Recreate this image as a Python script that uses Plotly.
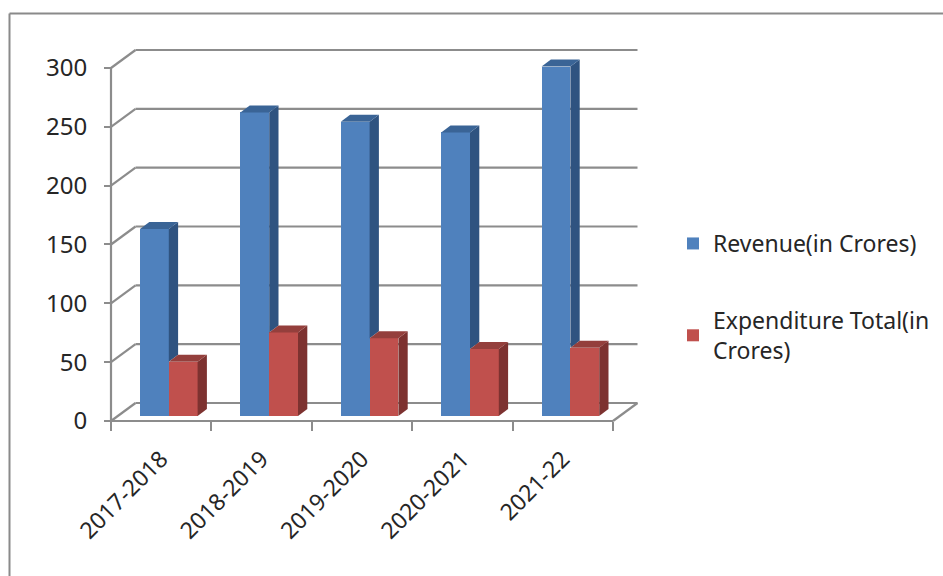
import plotly.graph_objects as go

categories = ["2017-2018", "2018-2019", "2019-2020", "2020-2021", "2021-22"]
revenue = [159, 258, 250, 241, 297]
expenditure = [46, 71, 66, 57, 58]
y_ticks = [0, 50, 100, 150, 200, 250, 300]

W, H = 943, 576
FONT = "Noto Sans"
TXT = "#262626"
GRID = "#8c8c8c"
BLUE, BLUE_SIDE, BLUE_TOP = "#4f81bd", "#2f5380", "#3a6496"
RED, RED_SIDE, RED_TOP = "#c0504d", "#7d3230", "#943f3c"

# pixel calibration of the "front" plane
X0, UX = 111.0, 100.4      # px of category boundary 0, px per category
Y0, UY = 421.0, 1.1767     # px of value 0, px per value unit
L, R, T, B = 100, 645, 40, 432   # plot rectangle in px

xr = [(L - X0) / UX, (R - X0) / UX]
yr = [(Y0 - B) / UY, (Y0 - T) / UY]
wall_dx, wall_dy = 24.5 / UX, 18 / UY        # depth of the back wall
base = 5 / UY                                # bars stand slightly in front
bar_w = 28.8 / UX
first = 29.0 / UX
d_x, d_y = 9.3 / UX, 7 / UY                  # bar depth

n = len(categories)
rev_left = [i + first for i in range(n)]
exp_left = [x + bar_w for x in rev_left]

fig = go.Figure()
for name, vals, lefts, col, gid in [
    ("Revenue(in Crores)", revenue, rev_left, BLUE, "a"),
    ("Expenditure Total(in<br>Crores)", expenditure, exp_left, RED, "b"),
]:
    fig.add_bar(x=[l + bar_w / 2 for l in lefts], y=vals, base=base, width=bar_w,
                name=name, legendgroup=gid, marker=dict(color=col, line=dict(width=0)),
                hoverinfo="skip")


def poly(xs, ys, color):
    fig.add_scatter(x=xs, y=ys, mode="lines", fill="toself", fillcolor=color,
                    line=dict(width=0, color=color), showlegend=False, hoverinfo="skip")


for l, v, r in zip(rev_left, revenue, expenditure):
    x1 = l + bar_w
    t, b = v + base, r + base
    poly([x1, x1 + d_x, x1 + d_x, x1, x1], [t, t + d_y, b + d_y, b, t], BLUE_SIDE)
    poly([l, l + d_x, x1 + d_x, x1, l], [t, t + d_y, t + d_y, t, t], BLUE_TOP)
for l, v in zip(exp_left, expenditure):
    x1 = l + bar_w
    t, b = v + base, base
    poly([x1, x1 + d_x, x1 + d_x, x1, x1], [t, t + d_y, b + d_y, b, t], RED_SIDE)
    poly([l, l + d_x, x1 + d_x, x1, l], [t, t + d_y, t + d_y, t, t], RED_TOP)

shapes = []


def seg(x0, y0, x1, y1, w=2.2):
    shapes.append(dict(type="line", xref="x", yref="y", x0=x0, y0=y0, x1=x1, y1=y1,
                       layer="below", line=dict(color=GRID, width=w)))


for v in y_ticks:
    seg(0, v, wall_dx, v + wall_dy)
    seg(wall_dx, v + wall_dy, n + wall_dx, v + wall_dy)
seg(0, 0, 0, y_ticks[-1])
seg(0, 0, n, 0)
seg(n, 0, n + wall_dx, wall_dy)

# outer frame, left and top only
shapes.append(dict(type="line", xref="paper", yref="paper", x0=9.5 / W, x1=1,
                   y0=1 - 13.5 / H, y1=1 - 13.5 / H, line=dict(color="#8a8a8a", width=2)))
shapes.append(dict(type="line", xref="paper", yref="paper", x0=9.5 / W, x1=9.5 / W,
                   y0=0, y1=1 - 13.5 / H, line=dict(color="#8a8a8a", width=2)))

fig.update_layout(
    width=W, height=H, margin=dict(l=0, r=0, t=0, b=0, autoexpand=False),
    paper_bgcolor="white", plot_bgcolor="white",
    barmode="overlay", bargap=0, shapes=shapes,
    font=dict(family=FONT, size=23, color=TXT),
    xaxis=dict(domain=[L / W, R / W], range=xr, anchor="free", position=1 - Y0 / H,
               tickmode="array", tickvals=[i + 0.5 for i in range(n)], ticktext=categories,
               tickangle=-45, ticks="", showgrid=False, zeroline=False, showline=False,
               ticklabelstandoff=19,
               tickfont=dict(family=FONT, size=23, color=TXT),
               minor=dict(tickmode="array", tickvals=list(range(n + 1)), ticks="outside",
                          ticklen=9, tickwidth=2, tickcolor=GRID, showgrid=False)),
    yaxis=dict(domain=[1 - B / H, 1 - T / H], range=yr, anchor="free", position=X0 / W,
               tickmode="array", tickvals=y_ticks, ticks="outside", ticklen=7, tickwidth=2,
               tickcolor=GRID, showgrid=False, zeroline=False, showline=False,
               ticklabelstandoff=12,
               tickfont=dict(family=FONT, size=24, color=TXT)),
    legend=dict(x=673 / W, y=1 - 222 / H, xanchor="left", yanchor="top",
                tracegroupgap=44, bgcolor="rgba(0,0,0,0)", traceorder="grouped",
                font=dict(family=FONT, size=23, color=TXT)),
)
fig.write_html("out.html", post_script="document.body.style.margin='0';",
               config={"displayModeBar": False})
